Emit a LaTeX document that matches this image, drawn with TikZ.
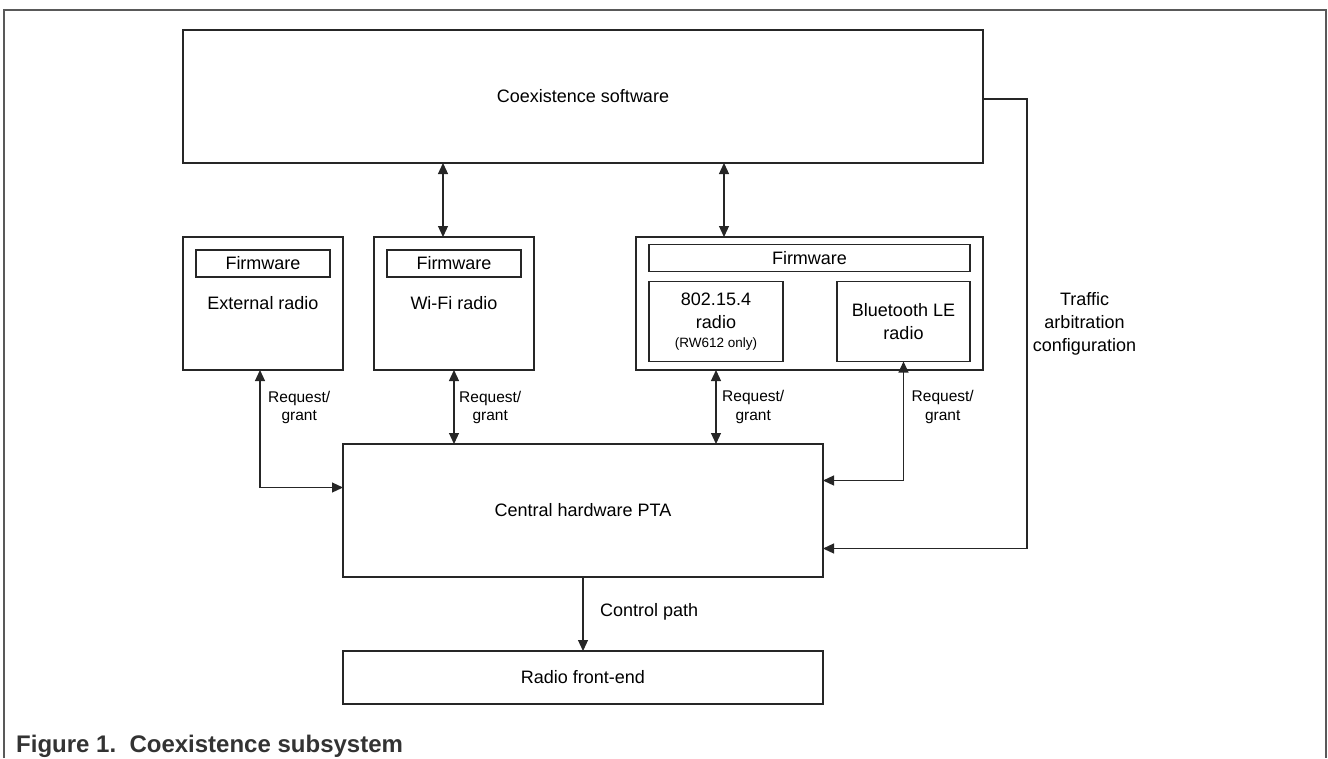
\documentclass[tikz,border=0pt]{standalone}
\usepackage{fontspec}
\setmainfont{Liberation Sans}
\usetikzlibrary{positioning,arrows.meta}
\tikzstyle{box}=[
	rectangle,
	draw=black!85,
	line width=1.2pt,
	inner sep=0pt,
	outer sep=0pt,
	align=center,
	text=black,
	font=\fontsize{18}{23}\selectfont
	]
\tikzstyle{fwbox}=[box, minimum width=134pt, minimum height=27pt]
\tikzstyle{radiobox}=[box, minimum width=160pt, minimum height=133pt]
\tikzstyle{reqlbl}=[inner sep=0pt, anchor=west, align=center, font=\fontsize{15.5}{18.5}\selectfont]
\tikzset{conn/.style={line width=1.2pt, draw=black!85}}

\begin{document}
\begin{tikzpicture}[x=1pt, y=-1pt, >={Triangle[length=11pt,width=10pt]}, font=\fontsize{18}{23}\selectfont]

		\useasboundingbox (0,0) rectangle (1328,758);
		\draw[line width=1.3pt, black!65] (4,758) -- (4,10) -- (1326,10) -- (1326,758);

		\node (Coex) [box, minimum width=800pt, minimum height=133pt, anchor=north west] at (183,30) {Coexistence software};

		\node (ExtRadio) [radiobox, below right=74pt and 0pt of Coex.south west] {};
		\node (WifiRadio) [radiobox, right=31pt of ExtRadio] {};
		\node (Combo) [box, minimum width=347pt, minimum height=133pt, right=102pt of WifiRadio] {};

		\node (ExtFw) [fwbox, below=13pt of ExtRadio.north] {Firmware};
		\node (WifiFw) [fwbox, below=13pt of WifiRadio.north] {Firmware};
		\node (ExtName) [inner sep=0pt] at ([yshift=-26pt]ExtFw.south) {External radio};
		\node (WifiName) [inner sep=0pt] at ([yshift=-26pt]WifiFw.south) {Wi-Fi radio};

		\node (ComboFw) [fwbox, minimum width=321pt, below=7.5pt of Combo.north] {Firmware};
		\node (Radio154) [box, minimum width=134pt, minimum height=80pt, below right=10pt and 0pt of ComboFw.south west] {
			802.15.4\\radio\\[-4.5pt]{\fontsize{13.5}{16}\selectfont(RW612 only)}
		};
		\node (Ble) [box, minimum width=133pt, minimum height=80pt, below left=10pt and 0pt of ComboFw.south east] {
			Bluetooth LE\\radio
		};

		\node (Pta) [box, minimum width=480pt, minimum height=133pt, below right=74pt and 0pt of ExtRadio.south east] {Central hardware PTA};
		\node (FrontEnd) [box, minimum width=480pt, minimum height=53pt, below=74pt of Pta] {Radio front-end};

		% software links
		\coordinate (sw1) at ([xshift=-11pt]WifiRadio.north);
		\coordinate (sw2) at ([xshift=8pt]Radio154.north);
		\draw[conn, <->] (Coex.south -| sw1) -- (sw1);
		\draw[conn, <->] (Coex.south -| sw2) -- (Combo.north -| sw2);

		% request/grant links
		\draw[conn, <->] ([xshift=-3pt]ExtRadio.south) |- ([yshift=23pt]Pta.west);
		\draw[conn, <->] (WifiRadio.south) -- (WifiRadio.south |- Pta.north);
		\draw[conn, <->] (Combo.south -| Radio154.south) -- (Pta.north -| Radio154.south);
		\draw[conn, <->] (Ble.south) |- ([yshift=30pt]Pta.east);

		\node (ReqExt) [reqlbl] at ([xshift=5pt,yshift=-37.5pt]ExtRadio.south) {Request/\\grant};
		\node (ReqWifi) [reqlbl] at ([xshift=5pt,yshift=-37.5pt]WifiRadio.south) {Request/\\grant};
		\node (Req154) [reqlbl] at ([xshift=6pt,yshift=-45.5pt]Radio154.south) {Request/\\grant};
		\node (ReqBle) [reqlbl] at ([xshift=8pt,yshift=-45.5pt]Ble.south) {Request/\\grant};

		% configuration and control
		\draw[conn, ->] ([yshift=-2.5pt]Coex.east) -- ++(44pt,0pt) |- ([yshift=-38pt]Pta.east);
		\node (TrafficLbl) [align=center, inner sep=0pt] at ([xshift=101.5pt,yshift=-20.5pt]Combo.east) {Traffic\\arbitration\\configuration};

		\draw[conn, ->] (Pta) -- (FrontEnd);
		\node (CtrlLbl) [anchor=west, inner sep=0pt] at ([xshift=17pt,yshift=-35pt]Pta.south) {Control path};

		\node (Caption) [anchor=base west, inner sep=0pt, text=black!80, font=\fontsize{24}{28}\selectfont\bfseries] at (16,752) {Figure 1.\ \ Coexistence subsystem};

	\end{tikzpicture}
\end{document}
